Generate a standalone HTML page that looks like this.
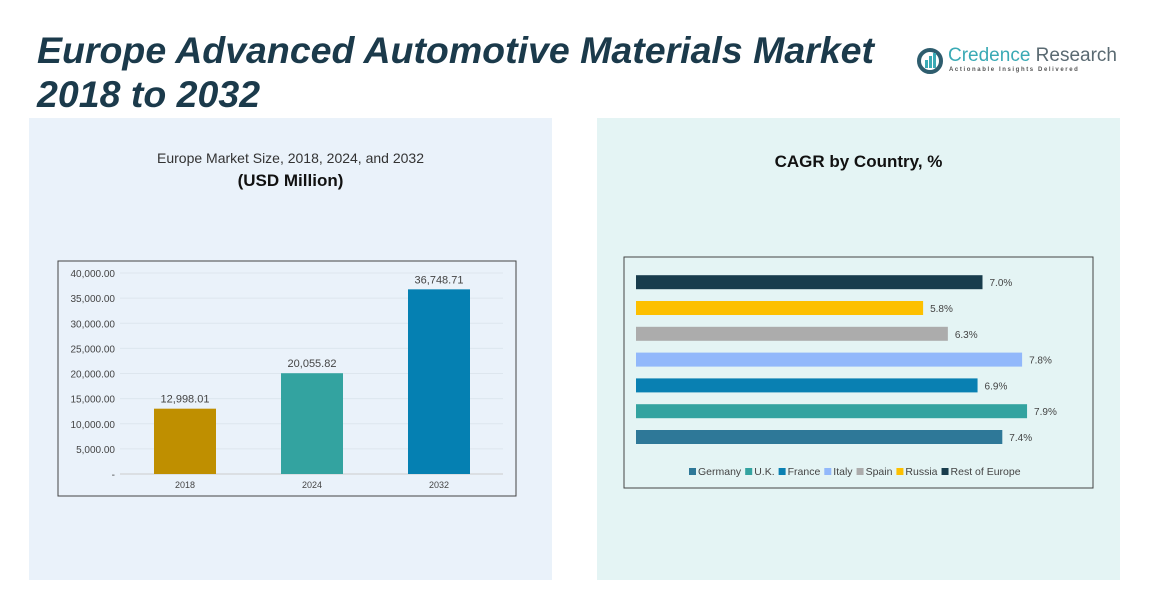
<!DOCTYPE html>
<html><head><meta charset="utf-8">
<style>
body{margin:0;width:1175px;height:595px;background:#fff;position:relative;overflow:hidden;font-family:"Liberation Sans",sans-serif}
.abs{position:absolute}
</style></head><body>
<div class="abs" style="left:29px;top:118px;width:523px;height:462px;background:#eaf2fa"></div>
<div class="abs" style="left:597px;top:118px;width:523px;height:462px;background:#e4f4f4"></div>
<div class="abs" style="left:37px;top:28px;font-size:37.5px;font-weight:bold;font-style:italic;color:#1b3a4b;line-height:44px">Europe Advanced Automotive Materials Market<br>2018 to 2032</div>
<div class="abs" style="left:916px;top:45px;width:180px;height:32px">
<svg width="28" height="28" style="position:absolute;left:0;top:2px"><circle cx="14" cy="14" r="11" fill="none" stroke="#2e5d6e" stroke-width="4"/><rect x="9" y="13" width="3" height="8" fill="#3aaab5"/><rect x="13" y="9" width="3" height="12" fill="#3aaab5"/><rect x="17" y="6" width="3" height="15" fill="#3aaab5"/></svg>
<div class="abs" style="left:32px;top:0;font-size:19px;white-space:nowrap"><span style="color:#3aaab5">Credence</span> <span style="color:#5a6a72">Research</span></div>
<div class="abs" style="left:33px;top:22px;font-size:6px;letter-spacing:1.6px;color:#555;white-space:nowrap;font-weight:bold">Actionable Insights Delivered</div>
</div>
<div class="abs" style="left:29px;width:523px;top:150px;text-align:center;font-size:14px;color:#333">Europe Market Size, 2018, 2024, and 2032</div>
<div class="abs" style="left:29px;width:523px;top:171px;text-align:center;font-size:17px;font-weight:bold;color:#111">(USD Million)</div>
<div class="abs" style="left:597px;width:523px;top:152px;text-align:center;font-size:17px;font-weight:bold;color:#111">CAGR by Country, %</div>
<svg id="c1" class="abs" style="left:0;top:0" width="1175" height="595"></svg>
<svg id="c2" class="abs" style="left:0;top:0" width="1175" height="595"></svg>
<script>
const years=["2018","2024","2032"];
const sizes=[12998.01,20055.82,36748.71];
const sizeLabels=["12,998.01","20,055.82","36,748.71"];
const yTicks=[0,5000,10000,15000,20000,25000,30000,35000,40000];
const yTickLabels=["-","5,000.00","10,000.00","15,000.00","20,000.00","25,000.00","30,000.00","35,000.00","40,000.00"];
const countries=["Germany","U.K.","France","Italy","Spain","Russia","Rest of Europe"];
const cagr=[7.4,7.9,6.9,7.8,6.3,5.8,7.0];
const cagrLabels=["7.4%","7.9%","6.9%","7.8%","6.3%","5.8%","7.0%"];
const ns="http://www.w3.org/2000/svg";
function mk(p,t,a){const e=document.createElementNS(ns,t);for(const k in a)e.setAttribute(k,a[k]);p.appendChild(e);return e;}
const c1=document.getElementById('c1');
const frame1=mk(c1,'rect',{x:58,y:261,width:458,height:235,fill:'none',stroke:'#444','stroke-width':1});


const y=v=>474-v/40000*201;
const bx=i=>185+i*127;
const barCols=["#bf8f00","#33a3a0","#0580b2"];
yTicks.forEach((t,i)=>{
 const g=mk(c1,'line',{x1:120,x2:503,y1:y(t),y2:y(t),stroke:i==0?'#ccc':'#dde6ee','stroke-width':1});
 
 
 const tx=mk(c1,'text',{x:115,y:y(t)+4,'text-anchor':'end','font-size':10,fill:'#444','font-family':'Liberation Sans'});
 tx.textContent=yTickLabels[i];
 
 
});
years.forEach((yr,i)=>{
 const r=mk(c1,'rect',{x:bx(i)-31,y:y(sizes[i]),width:62,height:474-y(sizes[i]),fill:barCols[i]});
 
 
 const l=mk(c1,'text',{x:bx(i),y:y(sizes[i])-6,'text-anchor':'middle','font-size':11,fill:'#444','font-family':'Liberation Sans'});
 l.textContent=sizeLabels[i];
 
 
 const xl=mk(c1,'text',{x:bx(i),y:488,'text-anchor':'middle','font-size':9,fill:'#444','font-family':'Liberation Sans'});
 xl.textContent=yr;
 
 
});
const c2=document.getElementById('c2');
const frame2=mk(c2,'rect',{x:624,y:257,width:469,height:231,fill:'none',stroke:'#444','stroke-width':1});


const cCols=["#2e7898","#33a3a0","#0980b2","#92b8fb","#acacac","#fdc000","#183c4c"];
const xs=v=>v*49.5;
const ry=i=>437-i*25.8;
countries.forEach((c,i)=>{
 const r=mk(c2,'rect',{x:636,y:ry(i)-7,width:xs(cagr[i]),height:14,fill:cCols[i]});
 
 
 const l=mk(c2,'text',{x:636+xs(cagr[i])+7,y:ry(i)+4,'font-size':10,fill:'#444','font-family':'Liberation Sans'});
 l.textContent=cagrLabels[i];
 
 
});
let lx=689;
countries.forEach((c,i)=>{
 const s=mk(c2,'rect',{x:lx,y:468,width:7,height:7,fill:cCols[i]});
 
 
 const t=mk(c2,'text',{x:lx+9,y:475,'font-size':10.5,fill:'#444','font-family':'Liberation Sans'});
 t.textContent=c;
 
 
 lx+=9+t.getComputedTextLength()+4;
});
</script>
</body></html>
